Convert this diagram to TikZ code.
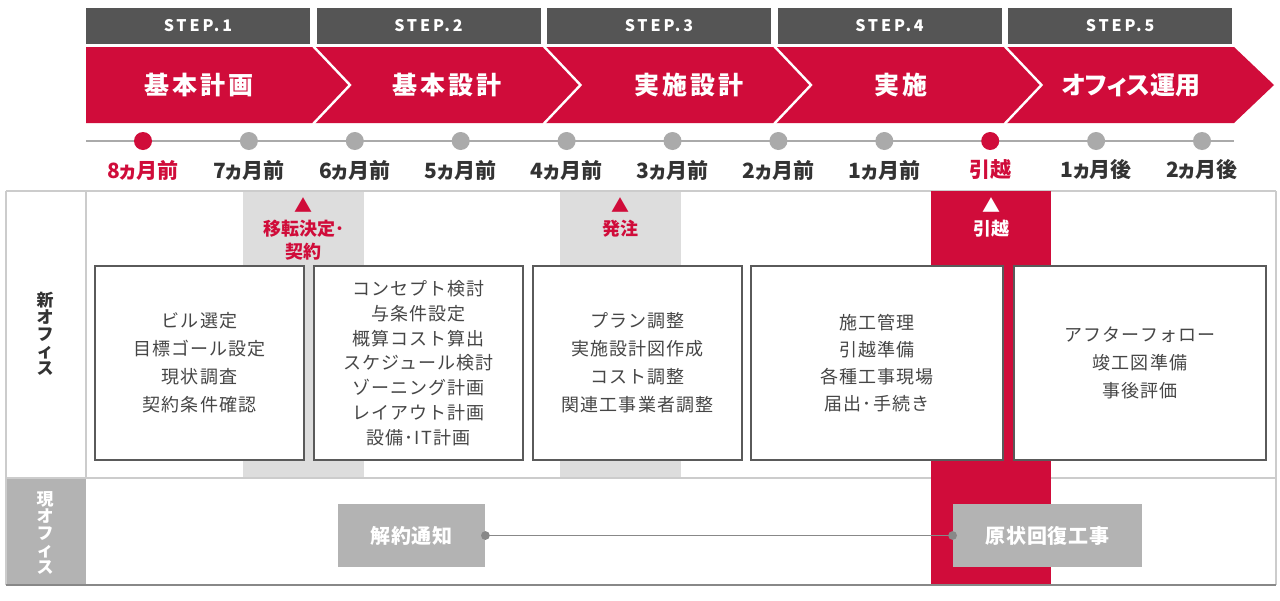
\documentclass[tikz,border=0pt]{standalone}
\usepackage{fontspec}
\setmainfont{Noto Sans CJK JP}
\definecolor{brand}{RGB}{208,12,58}
\definecolor{hdr}{RGB}{85,85,85}
\definecolor{dotg}{RGB}{170,170,170}
\definecolor{bandg}{RGB}{221,221,221}
\definecolor{lowg}{RGB}{179,179,179}
\definecolor{txt}{RGB}{70,70,70}
\definecolor{txtdark}{RGB}{51,51,51}
\definecolor{rulec}{RGB}{204,204,204}
\definecolor{boxline}{RGB}{90,90,90}
\definecolor{linkc}{RGB}{136,136,136}
\begin{document}
\begin{tikzpicture}[x=0.5pt,y=-0.5pt,
  stephdr/.style={fill=hdr,text=white,inner sep=0,minimum width=112pt,minimum height=18pt,font=\fontsize{8}{9}\selectfont\bfseries\addfontfeature{LetterSpace=18}},
  stage/.style={text=white,inner sep=0,font=\fontsize{12.5}{14}\selectfont\bfseries\addfontfeature{LetterSpace=13}},
  tdot/.style={circle,fill=dotg,inner sep=0,minimum size=9pt},
  rdot/.style={tdot,fill=brand},
  mlabel/.style={text=txtdark,inner sep=0,font=\fontsize{10.5}{12}\selectfont\bfseries\addfontfeature{RawFeature=+palt}},
  taskbox/.style={draw=boxline,line width=0.75pt,fill=white,inner sep=0,minimum height=97pt,align=center,text=txt,font=\fontsize{9}{#1}\selectfont\addfontfeature{LetterSpace=6}},
  marker/.style={align=center,inner sep=0,font=\fontsize{9}{11.5}\selectfont\bfseries},
  tri/.style={inner sep=0,font=\fontsize{9}{9}\selectfont},
  lowbox/.style={fill=lowg,text=white,inner sep=0,minimum height=31.5pt,font=\fontsize{10}{11}\selectfont\bfseries\addfontfeature{LetterSpace=4}},
  rowlabel/.style={align=center,inner sep=0,font=\fontsize{8.5}{8.5}\selectfont\bfseries}
]
\useasboundingbox[fill=white] (0,0) rectangle (1280,600);

% ---- step headers
\node[stephdr] (s1) at (198,26) {STEP.1};
\node[stephdr] (s2) at (428.5,26) {STEP.2};
\node[stephdr] (s3) at (659,26) {STEP.3};
\node[stephdr] (s4) at (889.5,26) {STEP.4};
\node[stephdr] (s5) at (1120,26) {STEP.5};

% ---- red chevron band
\fill[brand] (86,47) -- (1234,47) -- (1274,85) -- (1234,123) -- (86,123) -- cycle;
\foreach \sx in {313,543.5,774,1004.5}
  \draw[white,line width=1.2pt] (\sx,46) -- (\sx+37,85) -- (\sx,124);
\node[stage] (g1) at (199,85) {基本計画};
\node[stage] (g2) at (447,85) {基本設計};
\node[stage] (g3) at (689,85) {実施設計};
\node[stage] (g4) at (901,85) {実施};
\node[stage,font=\fontsize{12.5}{14}\selectfont\bfseries\addfontfeature{RawFeature=+palt}] (g5) at (1131,85) {オフィス運用};

% ---- timeline
\coordinate (tlA) at (86,141);
\coordinate (tlB) at (1234,141);
\draw[dotg,line width=0.75pt] (tlA) -- (tlB);
\foreach \i/\st in {0/rdot,1/tdot,2/tdot,3/tdot,4/tdot,5/tdot,6/tdot,7/tdot,8/rdot,9/tdot,10/tdot}{
  \node[\st] (d\i) at (143+105.9*\i,141) {};
}
\foreach \i/\lab in {1/7ヵ月前,2/6ヵ月前,3/5ヵ月前,4/4ヵ月前,5/3ヵ月前,6/2ヵ月前,7/1ヵ月前,9/1ヵ月後,10/2ヵ月後}{
  \node[mlabel] (m\i) at (143+105.9*\i,170) {\lab};
}
\node[mlabel,text=brand] (m0) at (143,170) {8ヵ月前};
\node[mlabel,text=brand] (m8) at (990.2,170) {引越};

% ---- table bands
\fill[bandg] (243,191) rectangle (364,478);
\fill[bandg] (560,191) rectangle (681,478);
\fill[lowg] (6,478) rectangle (86,585);
% table rules
\draw[rulec,line width=1pt] (6,191) -- (1276,191);
\draw[rulec,line width=1pt] (6,191) -- (6,585);
\draw[rulec,line width=1pt] (1276,191) -- (1276,585);
\draw[rulec,line width=1pt] (86,191) -- (86,478);
\draw[rulec,line width=1.2pt] (6,478) -- (1276,478);
\fill[brand] (931,191) rectangle (1051,585);
\draw[linkc,line width=1.2pt] (6,585) -- (1276,585);

% ---- row labels
\node[rowlabel,text=txtdark] (rnew) at (45,334) {新\\オ\\フ\\ィ\\ス};
\node[rowlabel,text=white] (rcur) at (45,533) {現\\オ\\フ\\ィ\\ス};

% ---- milestones
\node[tri,text=brand] (t1) at (303.5,205) {▲};
\node[marker,text=brand] (k1) at (303.5,240) {移転決定･\\契約};
\node[tri,text=brand] (t2) at (620.5,205) {▲};
\node[marker,text=brand] (k2) at (620.5,229) {発注};
\node[tri,text=white] (t3) at (991,205) {▲};
\node[marker,text=white] (k3) at (991,229) {引越};

% ---- task boxes
\node[taskbox=14,minimum width=104.5pt] (b1) at (199.5,363) {ビル選定\\目標ゴール設定\\現状調査\\契約条件確認};
\node[taskbox=12.4,minimum width=104.5pt] (b2) at (418.5,363) {コンセプト検討\\与条件設定\\概算コスト算出\\スケジュール検討\\ゾーニング計画\\レイアウト計画\\設備･IT計画};
\node[taskbox=14,minimum width=104.5pt] (b3) at (637.5,363) {プラン調整\\実施設計図作成\\コスト調整\\関連工事業者調整};
\node[taskbox=13.5,minimum width=126pt] (b4) at (877,363) {施工管理\\引越準備\\各種工事現場\\届出･手続き};
\node[taskbox=14.2,minimum width=126pt] (b5) at (1140,363) {アフターフォロー\\竣工図準備\\事後評価};

% ---- current office row
\node[lowbox,minimum width=73.5pt] (c1) at (411.5,535.5) {解約通知};
\node[lowbox,minimum width=94.5pt] (c2) at (1047.5,535.5) {原状回復工事};
\draw[linkc,line width=0.8pt] (c1.east) -- (c2.west);
\fill[linkc] (c1.east) circle[radius=2.2pt];
\fill[linkc] (c2.west) circle[radius=2.2pt];
\end{tikzpicture}
\end{document}
